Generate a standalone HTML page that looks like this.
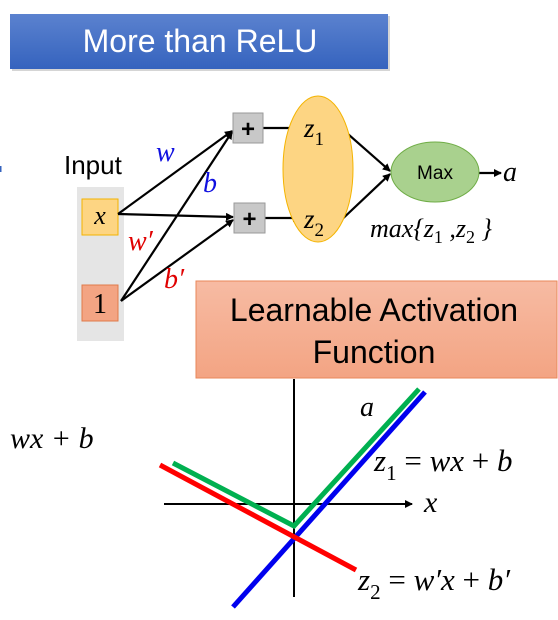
<!DOCTYPE html>
<html><head><meta charset="utf-8"><style>
html,body{margin:0;padding:0;background:#fff;width:558px;height:620px;overflow:hidden}
svg text{font-family:"Liberation Serif",serif}
.s{font-family:"Liberation Sans",sans-serif}
</style></head><body>
<svg width="558" height="620" viewBox="0 0 558 620">
<defs>
<linearGradient id="tg" x1="0" y1="0" x2="0" y2="1"><stop offset="0" stop-color="#5b82cf"/><stop offset="1" stop-color="#3563be"/></linearGradient>
<linearGradient id="og" x1="0" y1="0" x2="0" y2="1"><stop offset="0" stop-color="#f7bba3"/><stop offset="1" stop-color="#f3a483"/></linearGradient>
<marker id="ar" markerWidth="8" markerHeight="8" refX="7" refY="4" orient="auto" markerUnits="userSpaceOnUse"><path d="M0,0 L8,4 L0,8 z" fill="#000"/></marker>
</defs>
<g>
<rect x="12" y="16" width="378" height="55" fill="#888" opacity="0.35"/>
<rect x="10" y="14" width="378" height="55" fill="url(#tg)"/>
<text class="s" x="200" y="52" font-size="32" fill="#fff" text-anchor="middle">More than ReLU</text>
</g>
<rect x="0" y="166" width="1.5" height="6" fill="#3563be"/>
<text class="s" x="64" y="174" font-size="26">Input</text>
<rect x="77" y="187" width="47" height="154" fill="#e5e5e5"/>
<rect x="82" y="199" width="36" height="36" fill="#fdd583" stroke="#f4b400"/>
<text x="100" y="224" font-size="26" font-style="italic" text-anchor="middle">x</text>
<rect x="82" y="285" width="36" height="36" fill="#f3a483" stroke="#e07a4a"/>
<text x="100" y="313" font-size="28" text-anchor="middle">1</text>
<g stroke="#000" stroke-width="2.2" fill="none">
<line x1="118" y1="214" x2="232" y2="131" marker-end="url(#ar)"/>
<line x1="118" y1="214" x2="233" y2="217" marker-end="url(#ar)"/>
<line x1="121" y1="301" x2="232" y2="132" marker-end="url(#ar)"/>
<line x1="121" y1="301" x2="233" y2="220" marker-end="url(#ar)"/>
<line x1="263" y1="128" x2="300" y2="128" marker-end="url(#ar)"/>
<line x1="265" y1="218" x2="300" y2="218" marker-end="url(#ar)"/>
<line x1="340" y1="127" x2="390" y2="171" marker-end="url(#ar)"/>
<line x1="336" y1="225" x2="390" y2="174" marker-end="url(#ar)"/>
<line x1="479" y1="173" x2="501" y2="173" marker-end="url(#ar)"/>
</g>
<text x="156" y="161" font-size="28" font-style="italic" fill="#1010e0">w</text>
<text x="203" y="192" font-size="28" font-style="italic" fill="#1010e0">b</text>
<text x="128" y="250" font-size="28" font-style="italic" fill="#e00000">w′</text>
<text x="164" y="288" font-size="28" font-style="italic" fill="#e00000">b′</text>
<rect x="233" y="113" width="30" height="30" fill="#c8c8c8" stroke="#999"/>
<text class="s" x="248" y="137" font-size="24" font-weight="bold" text-anchor="middle">+</text>
<rect x="234" y="203" width="31" height="30" fill="#c8c8c8" stroke="#999"/>
<text class="s" x="249.5" y="227" font-size="24" font-weight="bold" text-anchor="middle">+</text>
<ellipse cx="318" cy="169" rx="35" ry="73" fill="#fdd583" stroke="#f4b400"/>
<text x="304" y="137" font-size="27" font-style="italic">z<tspan font-size="19" font-style="normal" dy="8">1</tspan></text>
<text x="304" y="228" font-size="27" font-style="italic">z<tspan font-size="19" font-style="normal" dy="8">2</tspan></text>
<ellipse cx="435" cy="172" rx="44" ry="30" fill="#a9d18e" stroke="#70ad47"/>
<text class="s" x="435" y="179" font-size="19" text-anchor="middle">Max</text>
<text x="503" y="181" font-size="28" font-style="italic">a</text>
<text x="370" y="237" font-size="26" font-style="italic">max{z<tspan font-size="18" font-style="normal" dy="6">1</tspan><tspan dy="-6"> ,z</tspan><tspan font-size="18" font-style="normal" dy="6">2</tspan><tspan dy="-6"> }</tspan></text>
<g>
<rect x="196" y="281" width="361" height="97" fill="url(#og)" stroke="#e8875a"/>
<text class="s" x="374" y="321" font-size="32" text-anchor="middle">Learnable Activation</text>
<text class="s" x="374" y="363" font-size="32" text-anchor="middle">Function</text>
</g>
<text x="10" y="448" font-size="30" font-style="italic">wx + b</text>
<g>
<line x1="294" y1="379" x2="294" y2="597" stroke="#000" stroke-width="2"/>
<line x1="164" y1="504" x2="412" y2="504" stroke="#000" stroke-width="2" marker-end="url(#ar)"/>
<text x="424" y="512" font-size="30" font-style="italic">x</text>
<line x1="233" y1="607" x2="425" y2="392" stroke="#0000ee" stroke-width="5"/>
<line x1="160" y1="465" x2="356" y2="570" stroke="#ff0000" stroke-width="5"/>
<polyline points="173,463 294,526 419,389" fill="none" stroke="#00b050" stroke-width="5"/>
<text x="360" y="416" font-size="28" font-style="italic">a</text>
<text x="374" y="471" font-size="31" font-style="italic">z<tspan font-size="21" font-style="normal" dy="9">1</tspan><tspan dy="-9" font-style="normal"> = </tspan>wx<tspan font-style="normal"> + </tspan>b</text>
<text x="358" y="590" font-size="31" font-style="italic">z<tspan font-size="21" font-style="normal" dy="9">2</tspan><tspan dy="-9" font-style="normal"> = </tspan>w′x<tspan font-style="normal"> + </tspan>b′</text>
</g>
</svg>
</body></html>
